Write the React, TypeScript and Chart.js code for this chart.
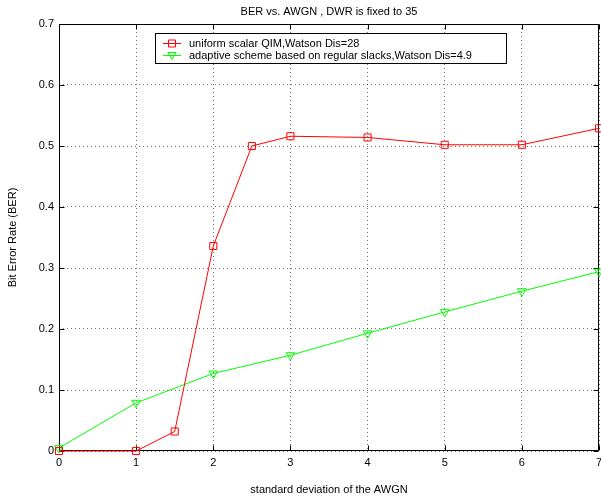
import React, { useEffect, useRef } from "react";
import { Chart, registerables } from "chart.js";

Chart.register(...registerables);

const chartTitle = "BER vs. AWGN , DWR is fixed to 35";
const xAxisTitle = "standard deviation of the AWGN";
const yAxisTitle = "Bit Error Rate (BER)";
const seriesLabels = [
  "uniform scalar QIM,Watson Dis=28",
  "adaptive scheme based on regular slacks,Watson Dis=4.9",
];
const qimX = [0, 1, 1.5, 2, 2.5, 3, 4, 5, 6, 7];
const qimBer = [0, 0, 0.032, 0.336, 0.5, 0.516, 0.514, 0.502, 0.502, 0.529];
const adaptiveX = [0, 1, 2, 3, 4, 5, 6, 7];
const adaptiveBer = [0.005, 0.079, 0.127, 0.157, 0.193, 0.228, 0.262, 0.294];
const xTicks = [0, 1, 2, 3, 4, 5, 6, 7];
const yTicks = [0, 0.1, 0.2, 0.3, 0.4, 0.5, 0.6, 0.7];
const yTickLabels = ["0", "0.1", "0.2", "0.3", "0.4", "0.5", "0.6", "0.7"];

const FONT = "'Liberation Sans', Arial, Helvetica, sans-serif";

const framePlugin = {
  id: "frame",
  beforeDatasetsDraw(chart: any) {
    const { ctx, chartArea: a, scales } = chart;
    ctx.save();
    ctx.strokeStyle = "#000";
    ctx.lineWidth = 1;
    ctx.beginPath();
    const L = Math.round(a.left) + 0.5, R = Math.round(a.right) - 0.5;
    const T = Math.round(a.top) + 0.5, B = Math.round(a.bottom) - 0.5;
    ctx.rect(L, T, R - L, B - T);
    const tl = 5;
    xTicks.forEach((v) => {
      const x = Math.round(scales.x.getPixelForValue(v)) + 0.5;
      ctx.moveTo(x, B);
      ctx.lineTo(x, B - tl);
      ctx.moveTo(x, T);
      ctx.lineTo(x, T + tl);
    });
    yTicks.forEach((v) => {
      const y = Math.round(scales.y.getPixelForValue(v)) + 0.5;
      ctx.moveTo(L, y);
      ctx.lineTo(L + tl, y);
      ctx.moveTo(R, y);
      ctx.lineTo(R - tl, y);
    });
    ctx.stroke();
    ctx.restore();
  },
};

const titlePlugin = {
  id: "matlabTitle",
  afterDraw(chart: any) {
    const { ctx, chartArea: a } = chart;
    ctx.save();
    ctx.font = `11px ${FONT}`;
    ctx.fillStyle = "#000";
    ctx.textAlign = "center";
    ctx.textBaseline = "middle";
    ctx.fillText(chartTitle, (a.left + a.right) / 2, 12);
    ctx.restore();
  },
};

const legendPlugin = {
  id: "boxLegend",
  afterDraw(chart: any) {
    const { ctx } = chart;
    const x0 = 155.5, y0 = 33.5, w = 351, h = 30;
    ctx.save();
    ctx.fillStyle = "#fff";
    ctx.fillRect(x0, y0, w, h);
    ctx.strokeStyle = "#000";
    ctx.lineWidth = 1;
    ctx.strokeRect(x0, y0, w, h);
    ctx.font = `11px ${FONT}`;
    ctx.textBaseline = "middle";
    ctx.textAlign = "left";
    const rows = [43.5, 55.5];
    chart.data.datasets.forEach((ds: any, i: number) => {
      const y = rows[i];
      ctx.strokeStyle = ds.borderColor;
      ctx.lineWidth = 1;
      ctx.beginPath();
      ctx.moveTo(163, y);
      ctx.lineTo(181, y);
      ctx.stroke();
      ctx.beginPath();
      if (ds.pointStyle === "rect") {
        ctx.rect(168.5, y - 3.5, 7, 7);
      } else {
        ctx.moveTo(168, y - 3);
        ctx.lineTo(176, y - 3);
        ctx.lineTo(172, y + 4);
        ctx.closePath();
      }
      ctx.stroke();
      ctx.fillStyle = "#000";
      ctx.fillText(ds.label, 189, y);
    });
    ctx.restore();
  },
};

export default function App() {
  const ref = useRef<HTMLCanvasElement>(null);
  useEffect(() => {
    if (!ref.current) return;
    const chart = new Chart(ref.current, {
      type: "scatter",
      data: {
        datasets: [
          {
            label: seriesLabels[0],
            data: qimX.map((x, i) => ({ x, y: qimBer[i] })),
            showLine: true,
            borderColor: "#ff0000",
            borderWidth: 1,
            pointStyle: "rect",
            pointRadius: 5,
            pointBorderWidth: 1,
            pointBorderColor: "#ff0000",
            pointBackgroundColor: "rgba(0,0,0,0)",
            clip: false,
          } as any,
          {
            label: seriesLabels[1],
            data: adaptiveX.map((x, i) => ({ x, y: adaptiveBer[i] })),
            showLine: true,
            borderColor: "#00ff00",
            borderWidth: 1,
            pointStyle: "triangle",
            rotation: 180,
            pointRadius: 5,
            pointBorderWidth: 1,
            pointBorderColor: "#00ff00",
            pointBackgroundColor: "rgba(0,0,0,0)",
            clip: false,
          } as any,
        ],
      },
      options: {
        responsive: false,
        animation: false,
        devicePixelRatio: 1,
        layout: { autoPadding: false, padding: { top: 24, right: 2, left: 0, bottom: 0 } },
        plugins: {
          legend: { display: false },
          title: { display: false },
          tooltip: { enabled: false },
        },
        scales: {
          x: {
            type: "linear",
            min: 0,
            max: 7,
            afterBuildTicks: (s: any) => {
              s.ticks = xTicks.map((v) => ({ value: v }));
            },
            afterFit: (s: any) => {
              s.height = 46;
              s.paddingLeft = 0;
              s.paddingRight = 0;
            },
            ticks: {
              color: "#000",
              font: { family: FONT, size: 11 },
              padding: 5,
              maxRotation: 0,
              autoSkip: false,
              callback: (v: any) => String(v),
            },
            grid: {
              drawTicks: false,
              color: "rgba(0,0,0,0.55)",
              lineWidth: 1,
            },
            border: { display: false, dash: [1, 3] },
            title: {
              display: true,
              text: xAxisTitle,
              color: "#000",
              font: { family: FONT, size: 11 },
              padding: { top: 0, bottom: 0 },
            },
          },
          y: {
            type: "linear",
            min: 0,
            max: 0.7,
            afterBuildTicks: (s: any) => {
              s.ticks = yTicks.map((v) => ({ value: v }));
            },
            afterFit: (s: any) => {
              s.width = 59;
              s.paddingTop = 0;
              s.paddingBottom = 0;
            },
            ticks: {
              color: "#000",
              font: { family: FONT, size: 11 },
              padding: 5,
              autoSkip: false,
              callback: (_v: any, i: number) => yTickLabels[i],
            },
            grid: {
              drawTicks: false,
              color: "rgba(0,0,0,0.55)",
              lineWidth: 1,
            },
            border: { display: false, dash: [1, 3] },
            title: {
              display: true,
              text: yAxisTitle,
              color: "#000",
              font: { family: FONT, size: 11 },
              padding: { top: 6.4, bottom: 0 },
            },
          },
        },
      },
      plugins: [framePlugin, titlePlugin, legendPlugin],
    } as any);
    return () => chart.destroy();
  }, []);
  return (
    <div style={{ position: "absolute", left: 0, top: 0, width: 601, height: 497, background: "#fff" }}>
      <canvas ref={ref} width={601} height={497} style={{ display: "block" }} />
    </div>
  );
}
